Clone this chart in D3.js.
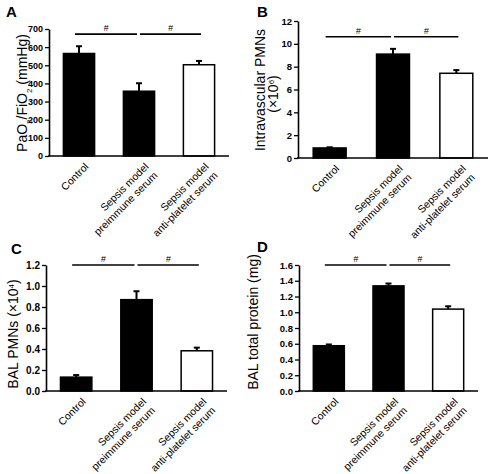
<!DOCTYPE html>
<html>
<head>
<meta charset="utf-8">
<script src="https://cdn.jsdelivr.net/npm/d3@7"></script>
<style>
  body { margin: 0; background: #fff; }
  svg { display: block; font-family: "Liberation Sans", Arial, Helvetica, sans-serif; }
</style>
</head>
<body>
<svg id="chart" width="493" height="474"></svg>
<script>
// ---- data ----
const categories = [["Control"], ["Sepsis model", "preimmune serum"], ["Sepsis model", "anti-platelet serum"]];
const barFills = ["#000", "#000", "#fff"];

const paoValues = [565, 357, 503];
const paoErrors = [40, 44, 21];
const paoTicks = [0, 100, 200, 300, 400, 500, 600, 700];

const pmnValues = [0.88, 9.1, 7.42];
const pmnErrors = [0.06, 0.46, 0.28];
const pmnTicks = [0, 2, 4, 6, 8, 10, 12];

const balPmnValues = [0.132, 0.87, 0.383];
const balPmnErrors = [0.02, 0.08, 0.03];
const balPmnTicks = [0.0, 0.2, 0.4, 0.6, 0.8, 1.0, 1.2];

const proteinValues = [0.575, 1.335, 1.04];
const proteinErrors = [0.016, 0.03, 0.036];
const proteinTicks = [0.0, 0.2, 0.4, 0.6, 0.8, 1.0, 1.2, 1.4, 1.6];

const sigPairs = [[0, 1], [1, 2]];
const sigLabel = "#";

// ---- layout ----
const panels = [
  { letter: "A", lx: 6, ly: 17, x0: 49, x1: 229, yb: 156, yt: 29, values: paoValues, errors: paoErrors, ticks: paoTicks, fmt: d3.format("d"), sig: 672, tfs: 9,
    ylab: [{ parts: [["PaO", ""], ["2", "sub"], ["/FiO", ""], ["2", "sub"], [" (mmHg)", ""]] }], labX: 27, labY: 93 },
  { letter: "B", lx: 257, ly: 17, x0: 298, x1: 488, yb: 158, yt: 21, values: pmnValues, errors: pmnErrors, ticks: pmnTicks, fmt: d3.format("d"), sig: 10.62, tfs: 9.5,
    ylab: [{ parts: [["Intravascular PMNs", ""]] }, { parts: [["(×10", ""], ["6", "sup"], [")", ""]] }], labX: 271.5, labY: 90 },
  { letter: "C", lx: 11, ly: 254, x0: 46, x1: 227, yb: 391, yt: 265, values: balPmnValues, errors: balPmnErrors, ticks: balPmnTicks, fmt: d3.format(".1f"), sig: 1.2, tfs: 10,
    ylab: [{ parts: [["BAL PMNs (×10", ""], ["4", "sup"], [")", ""]] }], labX: 18, labY: 334 },
  { letter: "D", lx: 257, ly: 252, x0: 299, x1: 478, yb: 391, yt: 265, values: proteinValues, errors: proteinErrors, ticks: proteinTicks, fmt: d3.format(".1f"), sig: 1.6, tfs: 9.5,
    ylab: [{ parts: [["BAL total protein (mg)", ""]] }], labX: 258, labY: 322 }
];

const svg = d3.select("#chart");

panels.forEach(p => {
  const g = svg.append("g");
  const x = d3.scaleBand().domain(d3.range(categories.length)).range([p.x0, p.x1])
    .paddingInner(0.48).paddingOuter(0.24);
  const y = d3.scaleLinear().domain([0, p.ticks[p.ticks.length - 1]]).range([p.yb, p.yt]);

  // panel letter
  g.append("text").attr("x", p.lx).attr("y", p.ly).text(p.letter)
    .attr("font-size", 15).attr("font-weight", "bold").attr("font-family", "Arial Black, Liberation Sans, Arial, sans-serif");

  // bars
  g.selectAll("rect.bar").data(p.values).enter().append("rect")
    .attr("x", (d, i) => x(i)).attr("width", x.bandwidth())
    .attr("y", d => y(d)).attr("height", d => y(0) - y(d))
    .attr("fill", (d, i) => barFills[i]).attr("stroke", "#000").attr("stroke-width", 1.5);

  // error bars (upper)
  p.values.forEach((v, i) => {
    const cx = x(i) + x.bandwidth() / 2;
    g.append("line").attr("x1", cx).attr("x2", cx).attr("y1", y(v)).attr("y2", y(v + p.errors[i]))
      .attr("stroke", "#000").attr("stroke-width", 2);
    g.append("line").attr("x1", cx - 3).attr("x2", cx + 3).attr("y1", y(v + p.errors[i])).attr("y2", y(v + p.errors[i]))
      .attr("stroke", "#000").attr("stroke-width", 2);
  });

  // y axis
  const ya = g.append("g").attr("transform", `translate(${p.x0},0)`)
    .call(d3.axisLeft(y).tickValues(p.ticks).tickFormat(p.fmt).tickSize(4).tickPadding(2).tickSizeOuter(0));
  ya.select(".domain").attr("stroke-width", 1.6);
  ya.selectAll(".tick line").attr("stroke-width", 1.3);
  ya.selectAll("text").attr("font-size", p.tfs).attr("font-weight", "bold").attr("font-family", "Liberation Sans, Arial, sans-serif");

  // x axis line
  g.append("line").attr("x1", p.x0 - 1).attr("x2", p.x1).attr("y1", p.yb).attr("y2", p.yb)
    .attr("stroke", "#000").attr("stroke-width", 1.6);

  // category labels
  categories.forEach((lines, i) => {
    const cx = x(i) + x.bandwidth() / 2;
    const t = g.append("text").attr("transform", `translate(${cx + 5},${p.yb + 6}) rotate(-45)`)
      .attr("text-anchor", "end").attr("font-size", 10.5);
    lines.forEach((ln, j) => {
      t.append("tspan").attr("x", 0).attr("dy", j === 0 ? "0.71em" : "1.2em").text(ln);
    });
  });

  // significance lines
  sigPairs.forEach(([a, b], k) => {
    const ca = x(a) + x.bandwidth() / 2, cb = x(b) + x.bandwidth() / 2;
    const xa = k === 0 ? ca - 4 : ca + 1;
    const xb = k === 0 ? cb - 2 : cb + 2;
    const yy = y(p.sig);
    g.append("line").attr("x1", xa).attr("x2", xb).attr("y1", yy).attr("y2", yy)
      .attr("stroke", "#000").attr("stroke-width", 1.6);
    g.append("text").attr("x", (xa + xb) / 2).attr("y", yy - 3).attr("text-anchor", "middle")
      .attr("font-size", 9).attr("font-style", "italic").text(sigLabel);
  });

  // y label
  const nl = p.ylab.length;
  p.ylab.forEach((line, j) => {
    const t = g.append("text")
      .attr("transform", `translate(${p.labX + (j - (nl - 1) / 2) * 13},${p.labY + j * 4}) rotate(-90)`)
      .attr("text-anchor", "middle").attr("font-size", 14);
    line.parts.forEach(([s, kind]) => {
      const ts = t.append("tspan").text(s);
      if (kind === "sub") ts.attr("font-size", 8).attr("baseline-shift", "sub");
      if (kind === "sup") ts.attr("font-size", 8).attr("baseline-shift", "super");
    });
  });
});
</script>
</body>
</html>
